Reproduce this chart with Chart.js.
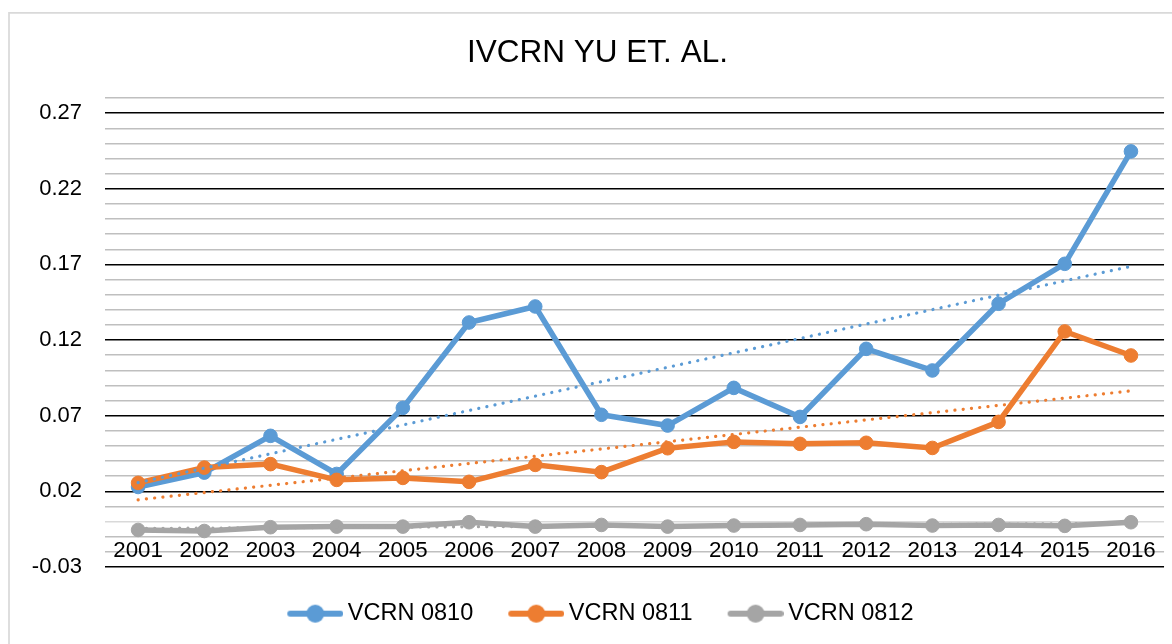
<!DOCTYPE html>
<html>
<head>
<meta charset="utf-8">
<script src="https://cdn.jsdelivr.net/npm/chart.js@4.4.1/dist/chart.umd.min.js"></script>
<style>
  html, body { margin: 0; padding: 0; background: #ffffff; }
  #wrap { width: 1172px; height: 644px; }
</style>
</head>
<body>
<div id="wrap"><canvas id="c" width="1172" height="644"></canvas></div>
<script>
// ---- data ----
const categories = ['2001','2002','2003','2004','2005','2006','2007','2008','2009','2010','2011','2012','2013','2014','2015','2016'];
const vcrn0810 = [0.0229, 0.0324, 0.0567, 0.0315, 0.0752, 0.1316, 0.1422, 0.0706, 0.0635, 0.0884, 0.0692, 0.1142, 0.0999, 0.1440, 0.1704, 0.2447];
const vcrn0811 = [0.0256, 0.0357, 0.0380, 0.0276, 0.0289, 0.0263, 0.0375, 0.0327, 0.0485, 0.0527, 0.0514, 0.0521, 0.0487, 0.0659, 0.1257, 0.1098];
const vcrn0812 = [-0.0055, -0.0062, -0.0037, -0.0033, -0.0033, -0.0004, -0.0033, -0.0022, -0.0033, -0.0026, -0.0022, -0.0017, -0.0026, -0.0022, -0.0028, -0.0004];
// linear trendline end points (first and last category)
const trend0810 = [0.0258, 0.1687];
const trend0811 = [0.0144, 0.0864];
const trend0812 = [-0.0045, -0.0012];
const seriesNames = ['VCRN 0810', 'VCRN 0811', 'VCRN 0812'];
const yTickLabels = ['0.27', '0.22', '0.17', '0.12', '0.07', '0.02', '-0.03'];
const yMin = -0.03, yMax = 0.28, yStep = 0.01;

const colors = ['#5B9BD5', '#ED7D31', '#A5A5A5'];
const FONT = '"Liberation Sans", Arial, Helvetica, sans-serif';

function trendData(arr) {
  return [{x: categories[0], y: arr[0]}, {x: categories[categories.length - 1], y: arr[1]}];
}

const LEG_W = 54.6;
function legendIcon(color) {
  const c = document.createElement('canvas');
  const w = Math.round(LEG_W + 14);
  c.width = w; c.height = 22;
  const g = c.getContext('2d');
  g.strokeStyle = color; g.fillStyle = color;
  g.lineWidth = 6; g.lineCap = 'round';
  g.beginPath(); g.moveTo(w - 53, 11); g.lineTo(w - 3, 11); g.stroke();
  g.beginPath(); g.arc(w - 28, 11, 9, 0, Math.PI * 2); g.fill();
  return c;
}

const frame = {
  id: 'frame',
  beforeDraw(chart) {
    const ctx = chart.ctx;
    ctx.save();
    ctx.fillStyle = '#ffffff';
    ctx.fillRect(0, 0, chart.width, chart.height);
    ctx.strokeStyle = '#D9D9D9';
    ctx.lineWidth = 1.7;
    ctx.beginPath();
    ctx.moveTo(9, chart.height + 2);
    ctx.lineTo(9, 12.9);
    ctx.lineTo(chart.width + 2, 12.9);
    ctx.stroke();
    ctx.restore();
  }
};

const seriesData = [vcrn0810, vcrn0811, vcrn0812];
const trends = [trend0810, trend0811, trend0812];
const datasets = [];
seriesData.forEach((d, i) => {
  datasets.push({
    label: seriesNames[i],
    data: d,
    borderColor: colors[i],
    backgroundColor: colors[i],
    borderWidth: 5.5,
    pointRadius: 6.8,
    pointHoverRadius: 6.8,
    pointBorderWidth: 1,
    pointBackgroundColor: colors[i],
    pointBorderColor: colors[i],
    tension: 0,
    order: 3 - i
  });
});
trends.forEach((t, i) => {
  datasets.push({
    label: 'trend ' + seriesNames[i],
    data: trendData(t),
    borderColor: colors[i],
    borderWidth: 3.2,
    borderDash: [0.1, 8.2],
    borderCapStyle: 'round',
    pointRadius: 0,
    pointHoverRadius: 0,
    order: 0
  });
});

new Chart(document.getElementById('c'), {
  type: 'line',
  data: { labels: categories, datasets },
  plugins: [frame],
  options: {
    responsive: false,
    animation: false,
    events: [],
    layout: { padding: { left: 28, right: 5, top: 0, bottom: 8.6 } },
    plugins: {
      tooltip: { enabled: false },
      title: {
        display: true,
        text: 'IVCRN YU ET. AL.',
        color: '#000000',
        font: { family: FONT, size: 31.5, weight: 'normal' },
        padding: { top: 34, bottom: 26.2 }
      },
      legend: {
        display: true,
        position: 'bottom',
        title: { display: true, text: '', padding: 0, font: { family: FONT, size: 5, lineHeight: '5.6px' } },
        labels: {
          usePointStyle: true,
          pointStyleWidth: LEG_W,
          padding: 29.3,
          color: '#000000',
          font: { family: FONT, size: 23.5 },
          generateLabels(chart) {
            return chart.data.datasets.slice(0, 3).map((ds, i) => ({
              text: ds.label,
              pointStyle: legendIcon(ds.borderColor),
              fillStyle: ds.borderColor,
              strokeStyle: ds.borderColor,
              lineWidth: 0,
              hidden: false,
              datasetIndex: i,
              fontColor: '#000000'
            }));
          }
        }
      }
    },
    scales: {
      x: {
        type: 'category',
        position: { y: 0 },
        offset: true,
        grid: { display: false, drawTicks: false },
        border: { display: false },
        ticks: {
          autoSkip: false,
          maxRotation: 0,
          minRotation: 0,
          padding: 16,
          color: '#000000',
          font: { family: FONT, size: 22.3 }
        },
        afterFit(scale) { scale.height = 0; }
      },
      y: {
        min: yMin,
        max: yMax,
        border: { display: false },
        grid: {
          drawTicks: false,
          color(ctx) {
            if (!ctx.tick) return '#BFBFBF';
            const v = ctx.tick.value;
            if (Math.abs(v) < 1e-9) return '#D9D9D9';
            const k = Math.round((v - yMin) * 100);
            return k % 5 === 0 ? '#000000' : '#BFBFBF';
          },
          lineWidth(ctx) {
            if (!ctx.tick) return 1.5;
            const k = Math.round((ctx.tick.value - yMin) * 100);
            return k % 5 === 0 ? 1.6 : 1.5;
          }
        },
        ticks: {
          stepSize: yStep,
          autoSkip: false,
          padding: 23,
          color: '#000000',
          font: { family: FONT, size: 22 },
          callback(value) {
            const lab = yTickLabels.find(l => Math.abs(parseFloat(l) - value) < 1e-6);
            return lab === undefined ? '' : lab;
          }
        },
        afterFit(scale) { scale.width = 77; }
      }
    }
  }
});
</script>
</body>
</html>
